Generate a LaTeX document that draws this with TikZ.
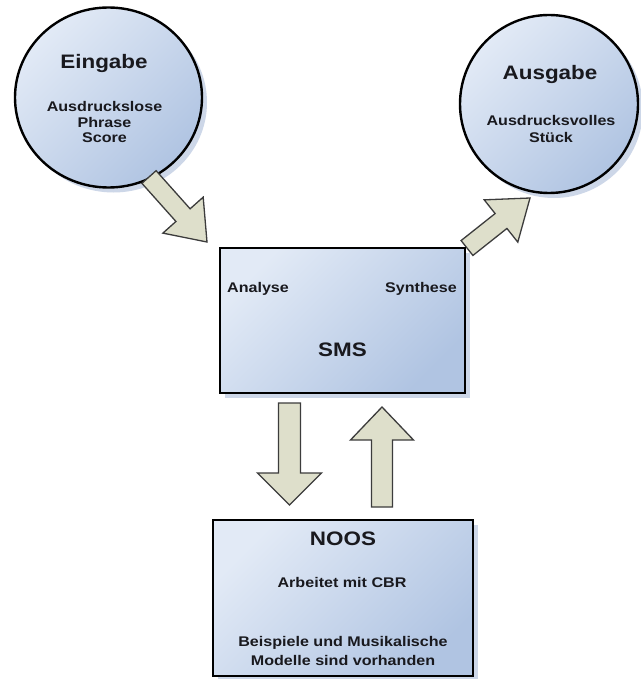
\documentclass[tikz,border=0pt]{standalone}
\usepackage{fontspec}
\setmainfont{Liberation Sans}[FakeStretch=1.15]
\usetikzlibrary{calc,shapes.geometric,shadows}
\definecolor{bluelight}{RGB}{226,234,246}
\definecolor{bluedark}{RGB}{176,196,226}
\definecolor{shadowc}{RGB}{205,215,232}
\definecolor{arrfill}{RGB}{222,223,203}
\definecolor{arrline}{RGB}{60,60,60}
\definecolor{txt}{RGB}{25,25,30}
\tikzset{
  shapebase/.style={draw=black, line width=2.4pt, top color=bluelight, bottom color=bluedark, shading angle=45,
    drop shadow={shadow xshift=5pt, shadow yshift=-5pt, fill=shadowc, opacity=1}, inner sep=0pt},
  bubble/.style={shapebase, ellipse},
  panel/.style={shapebase, rectangle},
  titletext/.style={font=\fontsize{19.5}{22}\selectfont\bfseries, text=txt, inner sep=0pt},
  smalltext/.style={font=\fontsize{14}{16}\selectfont\bfseries, text=txt, align=center, inner sep=0pt},
  blockarr/.style={draw=arrline, line width=1.3pt, fill=arrfill, line join=miter},
}
% #1 tail, #2 tip, #3 shaft half width, #4 head half width, #5 head length
\newcommand{\blockarrowdraw}[5]{%
  \coordinate (bah) at ($(#2)!#5!(#1)$);
  \path[blockarr] ($(#1)!#3!90:(#2)$) -- ($(bah)!#3!-90:(#1)$) -- ($(bah)!#4!-90:(#1)$) -- (#2)
    -- ($(bah)!#4!90:(#1)$) -- ($(bah)!#3!90:(#1)$) -- ($(#1)!#3!-90:(#2)$) -- cycle;
}
\begin{document}
\begin{tikzpicture}[x=1pt,y=-1pt]
\useasboundingbox[fill=white] (0,0) rectangle (640,679);

% Ausgabe arrow (behind SMS box)
\coordinate (aus-tail) at (467,248);
\coordinate (aus-tip) at (530,198);

% shapes
\node[bubble, minimum width=187pt, minimum height=180pt] (ein) at (108.5,97.5) {};
\node[bubble, minimum width=178pt, minimum height=178pt] (aus) at (549,104) {};
\blockarrowdraw{aus-tail}{aus-tip}{9.5pt}{27pt}{37pt}
\node[panel, minimum width=245pt, minimum height=145pt] (sms) at (342.5,320.5) {};
\node[panel, minimum width=260pt, minimum height=156pt] (noos) at (343,598) {};

% Eingabe arrow
\coordinate (ein-tail) at (149,177);
\coordinate (ein-tip) at (207,242);
\blockarrowdraw{ein-tail}{ein-tip}{9.5pt}{27pt}{36pt}

% vertical arrows
\coordinate (down-tail) at (289.5,403);
\coordinate (down-tip) at (289.5,505);
\blockarrowdraw{down-tail}{down-tip}{11pt}{32pt}{32pt}
\coordinate (up-tail) at (382,507);
\coordinate (up-tip) at (382,407);
\blockarrowdraw{up-tail}{up-tip}{10.5pt}{31.5pt}{33pt}

% texts
\node[titletext, anchor=base] (ein-t) at (104,69) {Eingabe};
\node[smalltext, font=\fontsize{14}{15.5}\selectfont\bfseries] (ein-s) at (104.5,122) {Ausdruckslose\\Phrase\\Score};
\node[titletext, anchor=base] (aus-t) at (550,80) {Ausgabe};
\node[smalltext, font=\fontsize{14}{17}\selectfont\bfseries] (aus-s) at (551,128.5) {Ausdrucksvolles\\Stück};
\node[smalltext, anchor=base] (ana) at (258,292.5) {Analyse};
\node[smalltext, anchor=base] (syn) at (421,292.5) {Synthese};
\node[titletext, anchor=base] (sms-t) at (342.5,356) {SMS};
\node[titletext, anchor=base] (noos-t) at (343,545) {NOOS};
\node[smalltext, anchor=base] (cbr) at (342,587) {Arbeitet mit CBR};
\node[smalltext, font=\fontsize{14}{19}\selectfont\bfseries] (bsp) at (343,650.5) {Beispiele und Musikalische\\Modelle sind vorhanden};
\end{tikzpicture}
\end{document}
